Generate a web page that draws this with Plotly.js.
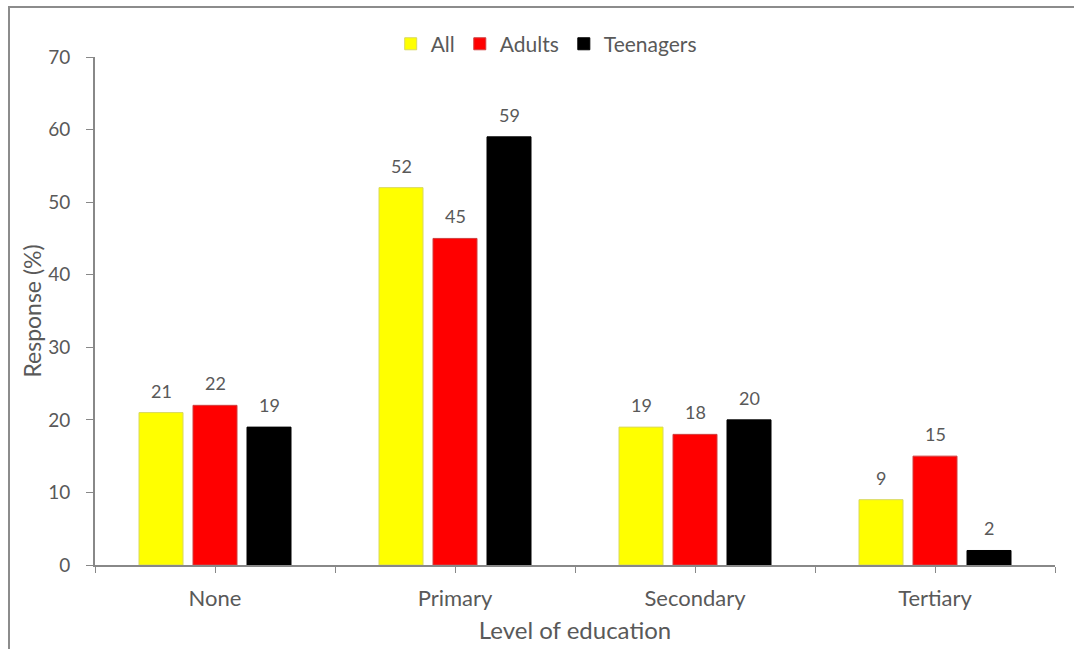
<!DOCTYPE html>
<html>
<head>
<meta charset="utf-8">
<script src="https://cdn.plot.ly/plotly-3.0.1.min.js"></script>
<style>
  html, body { margin: 0; padding: 0; background: #fff; }
  #chart { width: 1074px; height: 649px; position: relative; }
  #frame { position: absolute; left: 8px; top: 6px; width: 1100px; height: 700px;
           border-left: 2px solid #8c8c8c; border-top: 2px solid #8c8c8c; pointer-events: none; z-index: 5; }
</style>
</head>
<body>
<div id="chart"></div>
<div id="frame"></div>
<script>
const categories = ["None", "Primary", "Secondary", "Tertiary"];
const seriesNames = ["All", "Adults", "Teenagers"];
const allValues = [21, 52, 19, 9];
const adultValues = [22, 45, 18, 15];
const teenValues = [19, 59, 20, 2];
const yTicks = [0, 10, 20, 30, 40, 50, 60, 70];

const seriesValues = [allValues, adultValues, teenValues];
const colors = ["#FFFF00", "#FF0000", "#000000"];
const lineColors = ["#d8d860", "#d04040", "#000000"];
const idx = categories.map((c, i) => i);
const boundaries = categories.map((c, i) => i - 0.5).concat([categories.length - 0.5]);

const bargap = 0.325;
const slot = (1 - bargap) / seriesNames.length;

const traces = seriesNames.map((name, j) => ({
  type: "bar",
  name: name,
  x: idx,
  y: seriesValues[j],
  marker: { color: colors[j], line: { color: lineColors[j], width: 1 } },
  hoverinfo: "none"
}));

const font = "Lato, 'Open Sans', sans-serif";
const grey = "#595959";

const annotations = [];
seriesValues.forEach((vals, j) => {
  vals.forEach((v, i) => {
    annotations.push({
      x: i + (j - 1) * slot, y: v, xref: "x", yref: "y",
      text: String(v), showarrow: false, yanchor: "bottom", yshift: 9,
      font: { family: font, size: 18, color: grey }
    });
  });
});

const layout = {
  width: 1074, height: 649,
  margin: { l: 95, r: 19, t: 57, b: 84 },
  paper_bgcolor: "#fff", plot_bgcolor: "#fff",
  barmode: "group", bargap: bargap, bargroupgap: 0.185,
  showlegend: true,
  legend: { orientation: "h", x: 0.47, xanchor: "center", y: 0.985, yanchor: "bottom",
            xref: "paper", font: { family: font, size: 21, color: grey },
            tracegroupgap: 0, traceorder: "normal" },
  xaxis: {
    range: [-0.5, categories.length - 0.5],
    tickvals: idx, ticktext: categories,
    showline: true, linecolor: "#888", linewidth: 2,
    ticks: "outside", ticklen: 6, tickcolor: "#888", tickwidth: 1,
    minor: { tickvals: boundaries, ticks: "outside", ticklen: 6, tickcolor: "#888", tickwidth: 1 },
    showgrid: false, zeroline: false,
    tickfont: { family: font, size: 22, color: grey },
    ticklabelstandoff: 7,
    title: { text: "Level of education", font: { family: font, size: 24, color: grey }, standoff: 12 }
  },
  yaxis: {
    range: [0, 70], tickvals: yTicks,
    showline: true, linecolor: "#888", linewidth: 2,
    ticks: "outside", ticklen: 7, tickcolor: "#888", tickwidth: 1,
    showgrid: false, zeroline: false,
    tickfont: { family: font, size: 19, color: grey },
    ticklabelstandoff: 12,
    title: { text: "Response (%)", font: { family: font, size: 23, color: grey }, standoff: 0 }
  },
  annotations: annotations
};

Plotly.newPlot("chart", traces, layout, { displayModeBar: false, staticPlot: true });
</script>
</body>
</html>
